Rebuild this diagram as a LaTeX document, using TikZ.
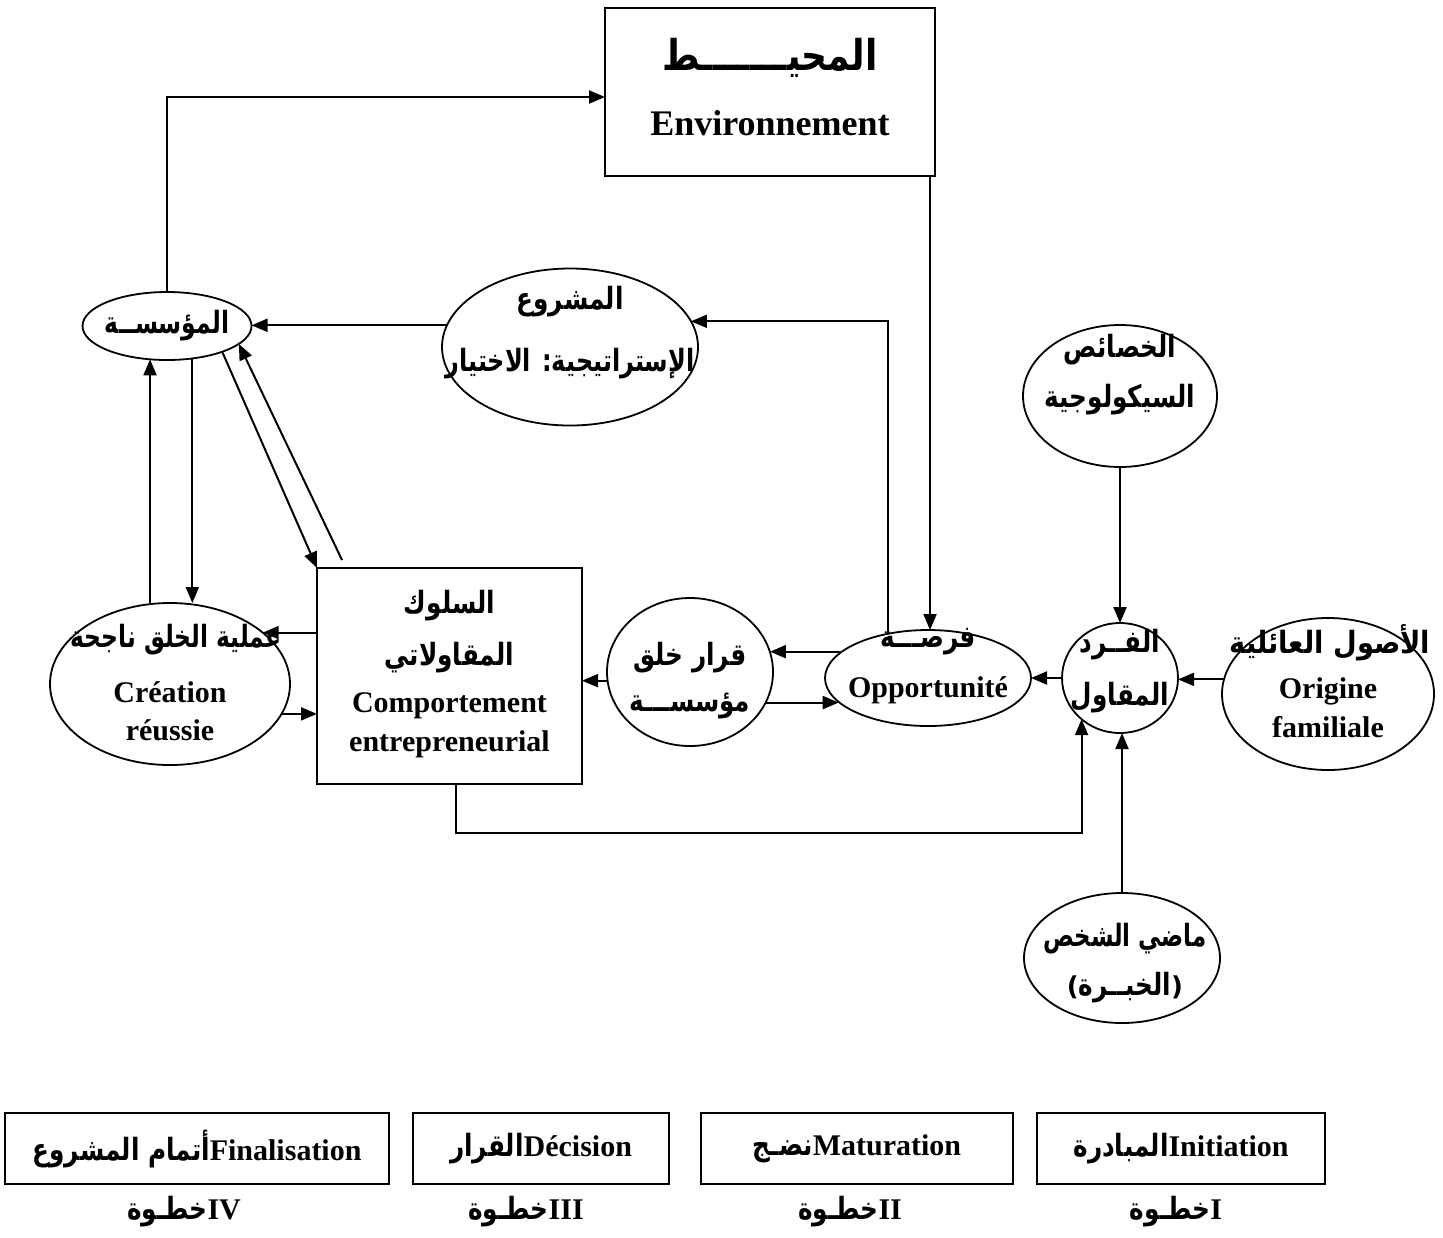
\documentclass[tikz,border=0pt]{standalone}
\usepackage{fontspec}
\setmainfont{Liberation Serif}
\newfontfamily\arabicfont[Script=Arabic]{DejaVu Sans}
\newfontfamily\plainsans{DejaVu Sans}
\TeXXeTstate=1
\usetikzlibrary{shapes.geometric,arrows.meta}

% Arabic run, set right to left, slightly condensed and tall
\newcommand\rtl[2][0.95]{\scalebox{#1}[1.18]{\beginR #2\endR}}
\newcommand\artxt[1]{{\arabicfont\bfseries\fontsize{13}{16}\selectfont\rtl{#1}}}

\tikzset{
  arr/.style={line width=1pt,-{Triangle[length=8pt,width=6.5pt]}},
  oval/.style={ellipse,draw,line width=0.9pt,inner sep=0pt,outer sep=0pt},
  boxn/.style={rectangle,draw,line width=0.9pt,inner sep=0pt,outer sep=0pt},
  lat/.style={font=\bfseries\fontsize{15}{18}\selectfont,inner sep=0pt},
  ara/.style={font=\arabicfont\bfseries\fontsize{13}{16}\selectfont,inner sep=0pt},
}

\begin{document}
\begin{tikzpicture}[x=0.5pt,y=-0.5pt]
\useasboundingbox (0,0) rectangle (1443,1237);

% ---- shapes ----
\node[boxn,minimum width=165pt,minimum height=84pt] (env) at (770,92) {};
\node[oval,minimum width=128pt,minimum height=78.5pt] (mash) at (570,347) {};
\node[oval,minimum width=84.5pt,minimum height=34pt] (muas) at (167,326) {};
\node[oval,minimum width=97pt,minimum height=71pt] (khas) at (1120,396) {};
\node[oval,minimum width=120pt,minimum height=81pt] (crea) at (170,684) {};
\node[boxn,minimum width=132.5pt,minimum height=108pt] (cmp) at (449.5,676) {};
\node[oval,minimum width=83pt,minimum height=74pt] (qarar) at (690,672) {};
\node[oval,minimum width=103pt,minimum height=48pt] (opp) at (928,678) {};
\node[oval,minimum width=58pt,minimum height=55pt] (fard) at (1120,678) {};
\node[oval,minimum width=106pt,minimum height=76pt] (orig) at (1328,694) {};
\node[oval,minimum width=98pt,minimum height=65pt] (mada) at (1122,958) {};

% ---- texts ----
\node[ara,font=\arabicfont\bfseries\fontsize{18}{20}\selectfont] (envA) at (770,58) {\rtl[1]{المحيـــــــط}};
\node[lat,font=\bfseries\fontsize{18}{20}\selectfont] (envL) at (770,123) {Environnement};

\node[ara] (mashA) at (570,302) {\rtl{المشروع}};
\node[ara] (mashB) at (570,364) {\rtl[0.92]{الإستراتيجية: الاختيار}};

\node[ara] (muasA) at (167,326) {\rtl[0.9]{المؤسســة}};

\node[ara] (khasA) at (1120,350) {\rtl{الخصائص}};
\node[ara] (khasB) at (1120,400) {\rtl{السيكولوجية}};

\node[ara] (creaA) at (176,640) {\rtl[0.9]{عملية الخلق ناجحة}};
\node[lat] (creaB) at (170,692) {Création};
\node[lat] (creaC) at (170,730) {réussie};

\node[ara] (cmpA) at (449.5,606) {\rtl{السلوك}};
\node[ara] (cmpB) at (449.5,658) {\rtl{المقاولاتي}};
\node[lat] (cmpC) at (449.5,706) {Comportement};
\node[lat] (cmpD) at (449.5,744) {entrepreneurial};

\node[ara] (qararA) at (690,658) {\rtl{قرار خلق}};
\node[ara] (qararB) at (690,706) {\rtl{مؤسســـة}};

\node[ara] (oppA) at (928,642) {\rtl{فرصـــة}};
\node[lat] (oppB) at (928,690) {Opportunité};

\node[ara] (fardA) at (1120,645) {\rtl{الفــرد}};
\node[ara] (fardB) at (1120,698) {\rtl{المقاول}};

\node[ara] (origA) at (1330,643) {\rtl[1.05]{الأصول العائلية}};
\node[lat] (origB) at (1328,691) {Origine};
\node[lat] (origC) at (1328,727) {familiale};

\node[ara] (madaA) at (1125,939) {\rtl[0.88]{ماضي الشخص}};
\node[ara] (madaB) at (1125,988) {{\plainsans\bfseries(}\rtl{الخبــرة}{\plainsans\bfseries)}};

% ---- connectors ----
\draw[arr] (muas.north) |- ([yshift=-2.5pt]env.west);
\coordinate (ex) at (930,0);
\draw[arr] (env.south -| ex) -- (opp.north -| ex);
\draw[arr] (opp.132) |- (mash.12.7);
\draw[arr] (mash.170.5) -- (mash.170.5 -| muas.east);
\draw[arr] (muas.-52.5) -- (muas.-52.5 |- crea.north);
\draw[arr] (muas.-117 |- crea.north) -- (muas.-117);
\draw[arr] (muas.-25) -- (cmp.north west);
\draw[arr] ([xshift=12.5pt,yshift=4pt]cmp.north west) -- (muas.-14);
\draw[arr] (cmp.west |- crea.29.5) -- (crea.29.5);
\draw[arr] (crea.-15) -- (crea.-15 -| cmp.west);
\draw[arr] (qarar.186) -- (qarar.186 -| cmp.east);
\draw[arr] (opp.163.3) -- (opp.163.3 -| qarar.14);
\draw[arr] (qarar.-22.4) -- (qarar.-22.4 -| opp.195.9);
\draw[arr] (fard.west) -- (opp.east);
\draw[arr] (orig.172.3) -- (orig.172.3 -| fard.east);
\draw[arr] (khas.south) -- (fard.north);
\draw[arr] (mada.north) -- (mada.north |- fard.south);
\coordinate (bend) at (456,833);
\draw[arr] (cmp.south -| bend) -- (bend) -| (fard.-133.8);

% ---- stages ----
\node[boxn,minimum width=192pt,minimum height=35.5pt] (s4) at (197,1148.5) {};
\node[boxn,minimum width=128pt,minimum height=35.5pt] (s3) at (541,1148.5) {};
\node[boxn,minimum width=156pt,minimum height=35.5pt] (s2) at (857,1148.5) {};
\node[boxn,minimum width=144pt,minimum height=35.5pt] (s1) at (1181,1148.5) {};

\node[lat] (s4t) at (s4.center) {\artxt{أتمام المشروع}Finalisation};
\node[lat] (s3t) at (s3.center) {\artxt{القرار}Décision};
\node[lat] (s2t) at (s2.center) {\artxt{نضـج}Maturation};
\node[lat] (s1t) at (s1.center) {\artxt{المبادرة}Initiation};

\node[lat] (s4l) at (184,1212) {\artxt{خطـوة}IV};
\node[lat] (s3l) at (526,1212) {\artxt{خطـوة}III};
\node[lat] (s2l) at (850,1212) {\artxt{خطـوة}II};
\node[lat] (s1l) at (1176,1212) {\artxt{خطـوة}I};
\end{tikzpicture}
\end{document}
